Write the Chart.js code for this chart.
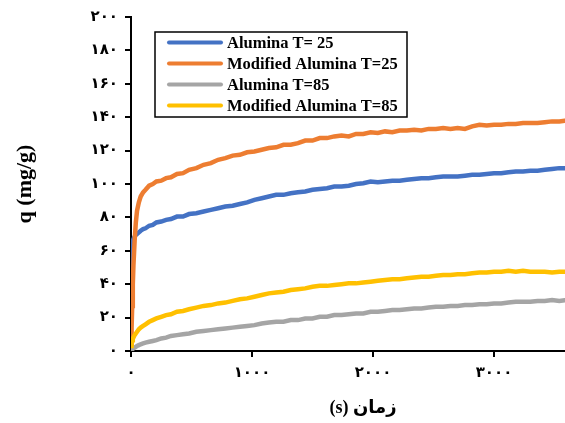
<!DOCTYPE html>
<html>
<head>
<meta charset="utf-8">
<script src="https://cdn.jsdelivr.net/npm/chart.js@4"></script>
<style>
  html, body { margin: 0; padding: 0; background: #fff; overflow: hidden; }
  #wrap { position: relative; width: 595px; height: 423px; }
</style>
</head>
<body>
<div id="wrap">
  <canvas id="kineticsChart"></canvas>
</div>
<script>
// time (s)
const times = [
  0, 5, 10, 15, 20, 30, 40, 50, 65, 80, 100, 120, 150, 180, 210, 250, 290, 330, 380, 430, 480, 540,
  600, 660, 720, 780, 840, 900, 960, 1020, 1080, 1140,
  1200, 1260, 1320, 1380, 1440, 1500, 1560, 1620, 1680, 1740,
  1800, 1860, 1920, 1980, 2040, 2100, 2160, 2220, 2280, 2340,
  2400, 2460, 2520, 2580, 2640, 2700, 2760, 2820, 2880, 2940,
  3000, 3060, 3120, 3180, 3240, 3300, 3360, 3420, 3480, 3540,
  3600
];

const alumina25 = [
  48, 62, 65, 66, 67, 68.5, 69.5, 70, 71, 72, 73, 73.5, 75, 75.5, 77, 77.5, 78.5, 79, 80.5, 80.5, 82, 82.5,
  83.5, 84.5, 85.5, 86.5, 87, 88, 89, 90.5, 91.5, 92.5,
  93.5, 93.5, 94.5, 95, 95.5, 96.5, 97, 97.5, 98.5, 98.5,
  99, 100, 100.5, 101.5, 101, 101.5, 102, 102, 102.5, 103,
  103.5, 103.5, 104, 104.5, 104.5, 104.5, 105, 105.5, 105.5, 106,
  106.5, 106.5, 107, 107.5, 107.5, 108, 108, 108.5, 109, 109.5,
  109.5
];

const modAlumina25 = [
  0, 14, 27, 40, 51, 66, 77, 84, 89, 92.5, 95, 96.5, 99, 100, 101.5, 102, 103.5, 104, 106, 106.5, 108.5, 109.5,
  111.5, 112.5, 114.5, 115.5, 117, 117.5, 119, 119.5, 120.5, 121.5,
  122, 123.5, 123.5, 124.5, 126, 126, 127.5, 127.5, 128.5, 129,
  128.5, 130, 130, 131, 130.5, 131.5, 131, 132, 132, 132.5,
  132, 133, 133, 133.5, 133, 133.5, 133, 134.5, 135.5, 135,
  135.5, 135.5, 136, 136, 136.5, 136.5, 136.5, 137, 137.5, 137.5,
  138
];

const alumina85 = [
  0, 0.5, 1, 1, 1.5, 2, 2.5, 3, 3.5, 4, 4.5, 5, 5.5, 6, 6.5, 7.5, 8, 9, 9.5, 10, 10.5, 11.5,
  12, 12.5, 13, 13.5, 14, 14.5, 15, 15.5, 16.5, 17,
  17.5, 17.5, 18.5, 18.5, 19.5, 19.5, 20.5, 20.5, 21.5, 21.5,
  22, 22.5, 22.5, 23.5, 23.5, 24, 24.5, 24.5, 25, 25.5,
  25.5, 26, 26.5, 26.5, 27, 27, 27.5, 27.5, 28, 28,
  28.5, 28.5, 29, 29.5, 29.5, 29.5, 30, 30, 30.5, 30,
  30.5
];

const modAlumina85 = [
  3, 5, 6.5, 7.5, 8, 9.5, 10.5, 11.5, 13, 14, 15, 16, 17.5, 18.5, 19.5, 20.5, 21.5, 22, 23.5, 24, 25, 26,
  27, 27.5, 28.5, 29, 30, 31, 31.5, 32.5, 33.5, 34.5,
  35, 35.5, 36.5, 37, 37.5, 38.5, 39, 39, 39.5, 40,
  40.5, 40.5, 41, 41.5, 42, 42.5, 43, 43, 43.5, 44,
  44.5, 44.5, 45, 45.5, 45.5, 46, 46, 46.5, 47, 47,
  47.5, 47.5, 48, 47.5, 48, 47.5, 47.5, 47.5, 47, 47.5,
  47.5
];

const seriesNames = ['Alumina T= 25', 'Modified Alumina T=25', 'Alumina T=85', 'Modified Alumina T=85'];
const seriesColors = ['#4472C4', '#ED7D31', '#A5A5A5', '#FFC000'];
const seriesValues = [alumina25, modAlumina25, alumina85, modAlumina85];

const xTickValues = [0, 1000, 2000, 3000];
const yMax = 200, yStep = 20;

// western digits -> persian digits
function toFa(n) {
  return String(n).replace(/\d/g, d => '۰۱۲۳۴۵۶۷۸۹'[d]);
}

const serif = '"Liberation Serif", "Times New Roman", "DejaVu Sans", serif';

const datasets = seriesValues.map((vals, i) => ({
  label: seriesNames[i],
  data: times.map((t, j) => ({ x: t, y: vals[j] })),
  borderColor: seriesColors[i],
  backgroundColor: seriesColors[i],
  borderWidth: 4.5,
  pointRadius: 0,
  tension: 0,
  fill: false,
  order: 3 - i // orange and blue drawn on top
}));

// boxed legend inside the plot area (Excel style)
const boxedLegend = {
  id: 'boxedLegend',
  afterDraw(chart) {
    const { ctx, chartArea: a } = chart;
    const left = a.left + 24, top = a.top + 15, w = 252, h = 85;
    ctx.save();
    ctx.fillStyle = '#fff';
    ctx.fillRect(left, top, w, h);
    ctx.strokeStyle = '#000';
    ctx.lineWidth = 1.5;
    ctx.strokeRect(left, top, w, h);
    ctx.font = 'bold 16.5px ' + serif;
    ctx.textBaseline = 'middle';
    chart.data.datasets.forEach((ds, i) => {
      const cy = top + 10.5 + i * 21;
      ctx.strokeStyle = ds.borderColor;
      ctx.lineWidth = 4;
      ctx.lineCap = 'round';
      ctx.beginPath();
      ctx.moveTo(left + 14, cy);
      ctx.lineTo(left + 66, cy);
      ctx.stroke();
      ctx.fillStyle = '#000';
      ctx.fillText(ds.label, left + 72, cy + 1);
    });
    ctx.restore();
  }
};

const ctx = document.getElementById('kineticsChart').getContext('2d');
const kineticsChart = new Chart(ctx, {
  type: 'line',
  data: { datasets: datasets },
  plugins: [boxedLegend],
  options: {
    responsive: true,
    maintainAspectRatio: false,
    animation: false,
    layout: { padding: { top: 17, right: 0, bottom: 0, left: 0 } },
    plugins: {
      legend: { display: false },
      tooltip: { enabled: false }
    },
    scales: {
      x: {
        type: 'linear',
        min: 0,
        max: 3835,
        afterBuildTicks: scale => {
          scale.ticks = xTickValues.map(v => ({ value: v }));
        },
        afterFit: scale => { scale.height = 72; },
        ticks: {
          autoSkip: false,
          maxRotation: 0,
          padding: 7,
          color: '#000',
          font: { family: serif, size: 15, weight: 'bold' },
          callback: v => toFa(v)
        },
        grid: { drawOnChartArea: false, tickLength: 6, color: '#000', lineWidth: 2 },
        border: { color: '#000', width: 2 },
        title: {
          display: true,
          text: '(s) زمان',
          color: '#000',
          font: { family: serif, size: 18, weight: 'bold' },
          padding: { top: 0, bottom: 4 }
        }
      },
      y: {
        min: 0,
        max: yMax,
        afterFit: scale => { scale.width = 131; },
        ticks: {
          stepSize: yStep,
          padding: 7,
          color: '#000',
          font: { family: serif, size: 15, weight: 'bold' },
          callback: v => toFa(v)
        },
        grid: { drawOnChartArea: false, tickLength: 6, color: '#000', lineWidth: 2 },
        border: { color: '#000', width: 2 },
        title: {
          display: true,
          text: 'q (mg/g)',
          color: '#000',
          font: { family: serif, size: 22, weight: 'bold' },
          padding: { top: 12, bottom: 0 }
        }
      }
    }
  }
});
</script>
</body>
</html>
